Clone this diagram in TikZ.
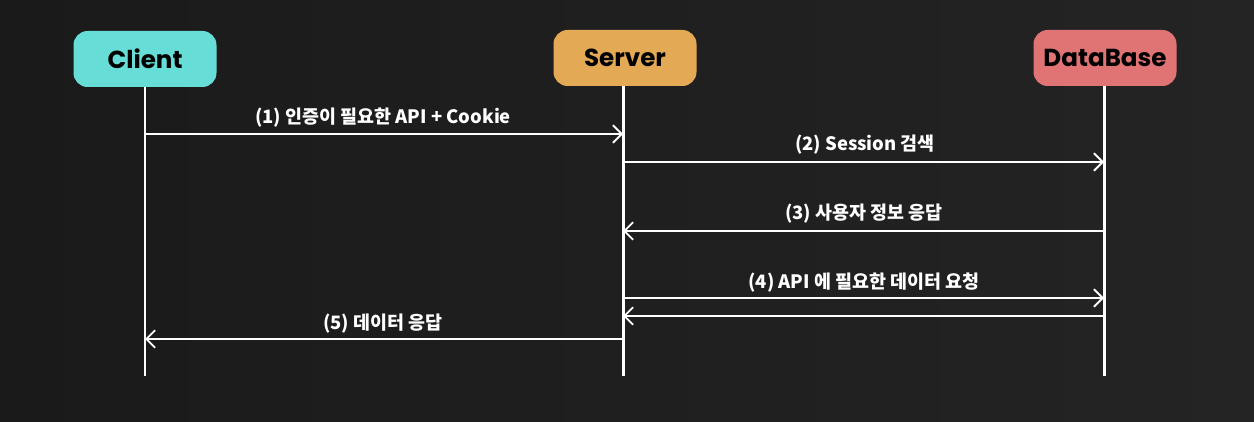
\documentclass[tikz,border=0pt]{standalone}
\usepackage{fontspec}
\newfontfamily\kr{Noto Sans CJK KR}
\newfontfamily\hdr{Poppins}
\usetikzlibrary{arrows.meta}
\definecolor{bgl}{HTML}{1A1A1A}
\definecolor{bgr}{HTML}{242424}
\definecolor{cclient}{HTML}{66DDD6}
\definecolor{cserver}{HTML}{E3A955}
\definecolor{cdb}{HTML}{E07373}
\tikzset{
  actor/.style={rounded corners=8pt, minimum width=143*0.02cm, minimum height=56*0.02cm,
    font=\hdr\bfseries\fontsize{14}{16}\selectfont, text=black, inner sep=0pt},
  life/.style={draw=white, line width=1.7pt},
  msg/.style={draw=white, line width=1.2pt, -{Straight Barb[length=5pt,width=10pt,line width=1.1pt]}},
  lbl/.style={text=white, font=\kr\bfseries\fontsize{10.5}{12}\selectfont, inner sep=0pt, anchor=base}
}
\begin{document}
\begin{tikzpicture}[x=0.02cm,y=-0.02cm]
\shade[left color=bgl,right color=bgr] (0,0) rectangle (1254,422);
\useasboundingbox (0,0) rectangle (1254,422);
\node[actor, fill=cclient] (client) at (145,59) {Client};
\node[actor, fill=cserver] (server) at (625,58) {Server};
\node[actor, fill=cdb] (db) at (1105,58) {DataBase};
\coordinate (ce) at (145,376);
\coordinate (se) at (623,376);
\coordinate (de) at (1104,376);
\draw[life] (client.south -| ce) -- (ce);
\draw[life] (server.south -| se) -- (se);
\draw[life] (db.south -| de) -- (de);
% messages
\coordinate (c1) at (145,134); \coordinate (s1) at (623,134);
\coordinate (s2) at (623,162); \coordinate (d2) at (1104,162);
\coordinate (d3) at (1104,231); \coordinate (s3) at (623,231);
\coordinate (s4) at (623,298); \coordinate (d4) at (1104,298);
\coordinate (d5) at (1104,316); \coordinate (s5) at (623,316);
\coordinate (s6) at (623,339); \coordinate (c6) at (145,339);
\draw[msg] (c1) -- (s1);
\draw[msg] (s2) -- (d2);
\draw[msg] (d3) -- (s3);
\draw[msg] (s4) -- (d4);
\draw[msg] (d5) -- (s5);
\draw[msg] (s6) -- (c6);
\node[lbl] (l1) at (383,124) {(1) 인증이 필요한 API + Cookie};
\node[lbl] (l2) at (865,151) {(2) Session 검색};
\node[lbl] (l3) at (864,220) {(3) 사용자 정보 응답};
\node[lbl] (l4) at (864,288) {(4) API 에 필요한 데이터 요청};
\node[lbl] (l5) at (383,329) {(5) 데이터 응답};
\end{tikzpicture}
\end{document}
